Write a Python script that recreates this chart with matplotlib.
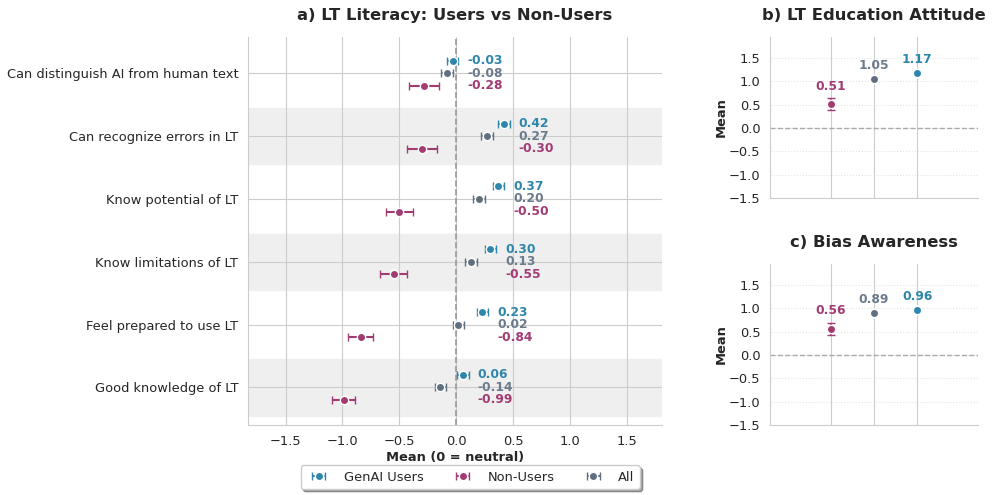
import numpy as np
import matplotlib
matplotlib.use("Agg")
import matplotlib.pyplot as plt
import seaborn as sns

sns.set_style("whitegrid")
plt.rcParams['font.family'] = ['DejaVu Sans']

# data
items = ["Can distinguish AI from human text", "Can recognize errors in LT",
         "Know potential of LT", "Know limitations of LT",
         "Feel prepared to use LT", "Good knowledge of LT"]
genai_mean = [-0.03, 0.42, 0.37, 0.30, 0.23, 0.06]
genai_err = [0.05, 0.05, 0.05, 0.05, 0.05, 0.05]
non_mean = [-0.28, -0.30, -0.50, -0.55, -0.84, -0.99]
non_err = [0.13, 0.13, 0.12, 0.12, 0.11, 0.10]
all_mean = [-0.08, 0.27, 0.20, 0.13, 0.02, -0.14]
all_err = [0.05, 0.05, 0.05, 0.05, 0.05, 0.05]

groups = ["Non-Users", "All", "GenAI Users"]
edu_mean = [0.51, 1.05, 1.17]
edu_err = [0.13, 0.03, 0.03]
bias_mean = [0.56, 0.89, 0.96]
bias_err = [0.13, 0.03, 0.03]

c_gen = '#2E86AB'
c_non = '#A23B72'
c_all = '#5F6F80'
t_all = '#6B7B8C'

fs = 9.4      # labels / ticks
fv = 8.8      # value labels
ft = 11.8     # titles

fig = plt.figure(figsize=(9.92, 4.95), dpi=100)
ax = fig.add_axes([0.25, 0.1414, 0.4173, 0.7838])

y = np.arange(len(items))
for i in y:
    if i % 2 == 1:
        ax.axhspan(i - 0.45, i + 0.45, color='#efefef', zorder=0)

kw = dict(fmt='o', ms=6, capsize=3, elinewidth=1.5, capthick=1.5,
          mec='white', mew=1, zorder=3)
h1 = ax.errorbar(genai_mean, y - 0.2, xerr=genai_err, color=c_gen, label='GenAI Users', **kw)
h2 = ax.errorbar(non_mean, y + 0.2, xerr=non_err, color=c_non, label='Non-Users', **kw)
h3 = ax.errorbar(all_mean, y, xerr=all_err, color=c_all, label='All', **kw)
ax.axvline(0, color='#999999', ls='--', lw=1.2, zorder=2)

for i in y:
    xt = max(genai_mean[i], non_mean[i], all_mean[i]) + 0.13
    ax.text(xt, i - 0.2, f"{genai_mean[i]:.2f}", color=c_gen, fontsize=fv,
            fontweight='bold', va='center', ha='left')
    ax.text(xt, i, f"{all_mean[i]:.2f}", color=t_all, fontsize=fv,
            fontweight='bold', va='center', ha='left')
    ax.text(xt, i + 0.2, f"{non_mean[i]:.2f}", color=c_non, fontsize=fv,
            fontweight='bold', va='center', ha='left')

ax.set_yticks(y)
ax.set_yticklabels(items, fontsize=fs)
ax.set_ylim(5.6, -0.58)
ax.set_xlim(-1.83, 1.81)
ax.set_xticks([-1.5, -1.0, -0.5, 0.0, 0.5, 1.0, 1.5])
ax.tick_params(axis='x', labelsize=fs)
ax.set_xlabel("Mean (0 = neutral)", fontsize=fs, fontweight='bold', labelpad=2)
ax.set_title("a) LT Literacy: Users vs Non-Users", fontsize=ft, fontweight='bold', pad=12)
for s in ['top', 'right']:
    ax.spines[s].set_visible(False)
for s in ['left', 'bottom']:
    ax.spines[s].set_color('#cccccc')

fig.legend(handles=[h1, h2, h3], labels=['GenAI Users', 'Non-Users', 'All'],
           loc='center', bbox_to_anchor=(0.474, 0.036), ncol=3, fontsize=fs,
           frameon=True, shadow=True, columnspacing=2.0, handletextpad=0.9)


def small_panel(rect, means, errs, title):
    a = fig.add_axes(rect)
    cols = [c_non, c_all, c_gen]
    tcols = [c_non, t_all, c_gen]
    xs = np.arange(len(means))
    for k in xs:
        a.errorbar(k, means[k], yerr=errs[k], fmt='o', color=cols[k], ms=6,
                   capsize=3, elinewidth=1.5, capthick=1.5, mec='white', mew=1, zorder=3)
        a.text(k, means[k] + errs[k] + 0.12, f"{means[k]:.2f}", color=tcols[k],
               fontsize=fv, fontweight='bold', ha='center', va='bottom')
    a.axhline(0, color='#aaaaaa', ls='--', lw=1, zorder=2)
    a.set_xlim(-1.4, 3.4)
    a.set_ylim(-1.5, 1.95)
    a.set_xticks(xs)
    a.set_xticklabels([])
    a.set_yticks([-1.5, -1.0, -0.5, 0.0, 0.5, 1.0, 1.5])
    a.tick_params(axis='y', labelsize=fs)
    a.grid(axis='y', ls=':', lw=0.8, color='#e4e4e4')
    a.set_ylabel("Mean", fontsize=fs, fontweight='bold', labelpad=1)
    a.set_title(title, fontsize=ft, fontweight='bold', pad=12)
    for s in ['top', 'right']:
        a.spines[s].set_visible(False)
    for s in ['left', 'bottom']:
        a.spines[s].set_color('#cccccc')
    return a


small_panel([0.7762, 0.6, 0.2097, 0.3253], edu_mean, edu_err, "b) LT Education Attitude")
small_panel([0.7762, 0.1414, 0.2097, 0.3253], bias_mean, bias_err, "c) Bias Awareness")

fig.savefig("out.png", dpi=100)
